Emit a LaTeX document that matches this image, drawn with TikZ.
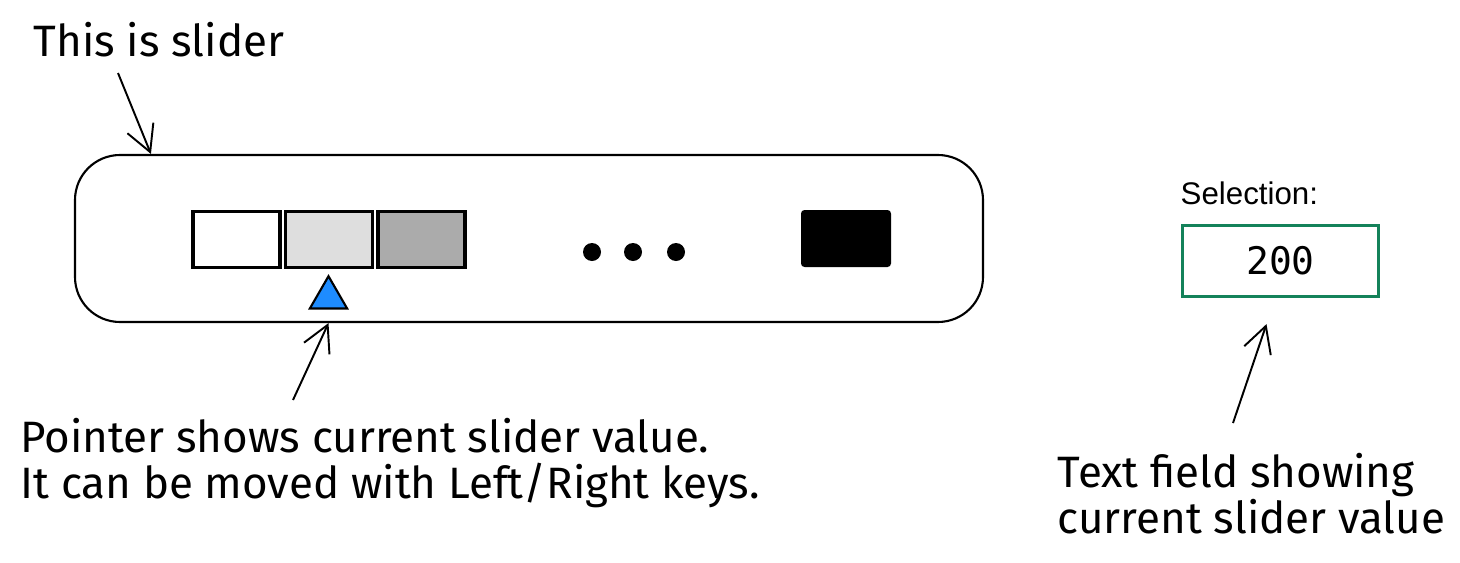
\documentclass[tikz,border=0pt]{standalone}
\usepackage{fontspec}
\setmainfont{Liberation Sans}
\setmonofont{DejaVu Sans Mono}
\newfontfamily\handfont{Fira Sans}
\usetikzlibrary{arrows.meta,positioning,shapes.geometric}
\definecolor{pointerblue}{RGB}{30,140,255}
\definecolor{fieldgreen}{RGB}{20,130,90}

\begin{document}
\begin{tikzpicture}[
    hand/.style={font=\handfont\fontsize{12.5}{13}\selectfont, inner sep=0pt, align=left},
    swatch/.style={rectangle, draw, line width=1pt, minimum width=0.87cm, minimum height=0.56cm, inner sep=0pt},
    dot/.style={circle, fill=black, minimum size=0.18cm, inner sep=0pt},
    ar/.style={line width=0.55pt, -{Straight Barb[length=2.6mm, width=2.8mm]}}]
    \useasboundingbox (0,0) rectangle (14.6,5.62);
    % slider track
    \node [draw, line width=0.6pt, rounded corners=0.45cm, minimum width=9.08cm, minimum height=1.67cm] (slider) at (5.29,3.235) {};
    \node [swatch, fill=white] (sw1) at (2.365,3.225) {};
    \node [swatch, fill=black!13, right=0.02cm of sw1] (sw2) {};
    \node [swatch, fill=black!33, right=0.02cm of sw2] (sw3) {};
    \foreach \x/\n in {5.92/1, 6.33/2, 6.76/3}
        \node [dot] (dot\n) at (\x,3.10) {};
    \node [rectangle, fill=black, rounded corners=1pt, minimum width=0.9cm, minimum height=0.57cm] (last) at (8.46,3.235) {};
    \node [regular polygon, regular polygon sides=3, draw, fill=pointerblue, line width=0.6pt, minimum size=0.43cm, inner sep=0pt] (pointer) at (3.285,2.643) {};
    % text field
    \node [draw=fieldgreen, line width=0.9pt, minimum width=1.96cm, minimum height=0.71cm, font=\ttfamily\fontsize{10.8}{12}\selectfont] (field) at (12.805,3.01) {200};
    \node [anchor=base west, inner sep=0pt, font=\fontsize{8.9}{10}\selectfont] (sellabel) at (11.80,3.58) {Selection:};
    % notes
    \node [hand, anchor=base west] (title) at (0.33,5.06) {This is slider};
    \node [hand, anchor=north west] (ptrnote) at (0.20,1.44) {Pointer shows current slider value.\\It can be moved with Left/Right keys.};
    \node [hand, anchor=north west] (fieldnote) at (10.57,1.09) {Text field showing\\current slider value};
    \coordinate (titletail) at (1.18,4.89);
    \coordinate (ptrtail) at (2.93,1.62);
    \coordinate (fieldtail) at (12.33,1.39);
    \draw [ar] (titletail) -- ([xshift=0.77cm]slider.north west);
    \draw [ar] (ptrtail) -- (pointer |- slider.south);
    \draw [ar] (fieldtail) -- ([xshift=-0.14cm, yshift=-0.26cm]field.south);
\end{tikzpicture}
\end{document}
